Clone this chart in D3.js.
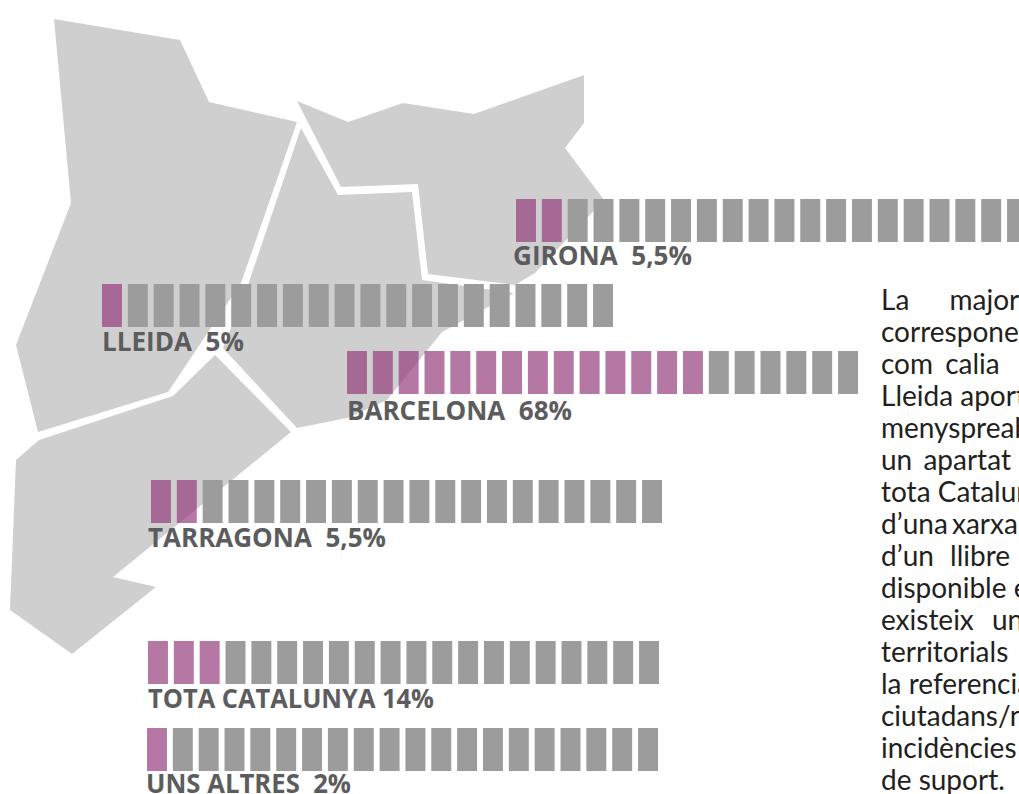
<!DOCTYPE html>
<html>
<head>
<meta charset="utf-8">
<script src="https://cdn.jsdelivr.net/npm/d3@7"></script>
<style>
    html, body { margin: 0; padding: 0; background: #fff; overflow: hidden; }
    svg { display: block; }
</style>
</head>
<body>
<div id="chart"></div>
<script>
// data
const regions = ["GIRONA", "LLEIDA", "BARCELONA", "TARRAGONA", "TOTA CATALUNYA", "UNS ALTRES"];
const percents = [5.5, 5, 68, 5.5, 14, 2];
const percentLabels = ["5,5%", "5%", "68%", "5,5%", "14%", "2%"];
const labelGaps = ["  ", "  ", "  ", "  ", " ", "  "];
const cellCount = 20;
const cellValue = 5; // every cell stands for 5%

const mapGirona = [[297,101],[348,122],[403,103],[474,114],[584,75],[584,123],[565,148],[604,200],[535,273],[515,285],[428,274],[418,184],[341,187]];
const mapLleida = [[54,19],[180,40],[209,102],[297,122],[241,283],[168,392],[38,432],[16,345],[71,203]];
const mapBarcelona = [[301,128],[338,195],[412,192],[422,280],[514,293],[442,332],[387,400],[347,418],[297,428],[223,348],[248,285]];
const mapTarragona = [[39,440],[16,460],[10,610],[72,654],[156,587],[113,577],[291,432],[215,355],[173,396]];
const mapShapes = [mapGirona, mapLleida, mapBarcelona, mapTarragona];

const bodyLines = ["La majoria", "corresponen", "com calia", "Lleida aporta", "menyspreable", "un apartat", "tota Catalunya", "d\u2019una xarxa", "d\u2019un llibre", "disponible en", "existeix un", "territorials", "la referencia", "ciutadans/nes", "incidències", "de suport."];
const bodyWordGaps = [33, 0, 5, 0, 0, 4, 0, -3, 9, 0, 11, 0, 0, 0, 0, 0];

// layout of the rows, they are scattered around the map
const rowLeft = d3.scaleOrdinal().domain(regions).range([516, 102, 347, 151, 148, 147]);
const rowTop = d3.scaleOrdinal().domain(regions).range([199, 284, 351, 480, 641, 728]);
const labelLeft = d3.scaleOrdinal().domain(regions).range([513, 102, 347, 148, 148, 146]);
const labelBase = d3.scaleOrdinal().domain(regions).range([265, 351, 420, 547, 708, 793]);
const labelWidth = d3.scaleOrdinal().domain(regions).range([179, 142, 225, 238, 286, 205]);

const width = 1019, height = 794;

const svg = d3.select("#chart").append("svg")
    .attr("width", width)
    .attr("height", height);

// map
const line = d3.line().curve(d3.curveLinearClosed);
svg.append("g").selectAll("path")
    .data(mapShapes)
    .enter()
    .append("path")
    .attr("d", d => line(d))
    .attr("fill", "#cfcfcf");

// cell rows
const x = d3.scaleBand()
    .domain(d3.range(cellCount))
    .range([0, 511])
    .paddingInner(0.228);

const rows = svg.append("g").selectAll("g")
    .data(regions)
    .enter()
    .append("g")
    .attr("transform", d => `translate(${rowLeft(d)}, ${rowTop(d)})`);

rows.selectAll("rect")
    .data((d, i) => d3.range(cellCount).map(c => ({cell: c, on: c < Math.ceil(percents[i] / cellValue)})))
    .enter()
    .append("rect")
    .attr("x", d => x(d.cell))
    .attr("y", 0)
    .attr("width", x.bandwidth())
    .attr("height", 43)
    .attr("fill", d => d.on ? "#923778" : "#9c9c9c")
    .attr("fill-opacity", d => d.on ? 0.68 : 1);

// labels
svg.append("g").selectAll("text")
    .data(regions)
    .enter()
    .append("text")
    .attr("x", d => labelLeft(d))
    .attr("y", d => labelBase(d))
    .attr("textLength", d => labelWidth(d))
    .attr("lengthAdjust", "spacingAndGlyphs")
    .attr("font-family", "'Open Sans', sans-serif")
    .attr("font-weight", 700)
    .attr("font-size", 26)
    .attr("fill", "#5c5c5e")
    .style("white-space", "pre")
    .text((d, i) => d + labelGaps[i] + percentLabels[i]);

// side text, runs off the page like in the original
const bodyY = d3.scalePoint()
    .domain(d3.range(bodyLines.length))
    .range([310, 790]);

svg.append("g").selectAll("text")
    .data(bodyLines)
    .enter()
    .append("text")
    .attr("x", 881)
    .attr("y", (d, i) => bodyY(i))
    .attr("word-spacing", (d, i) => bodyWordGaps[i])
    .attr("font-family", "Lato, sans-serif")
    .attr("font-size", 28)
    .attr("fill", "#231f20")
    .text(d => d);
</script>
</body>
</html>
